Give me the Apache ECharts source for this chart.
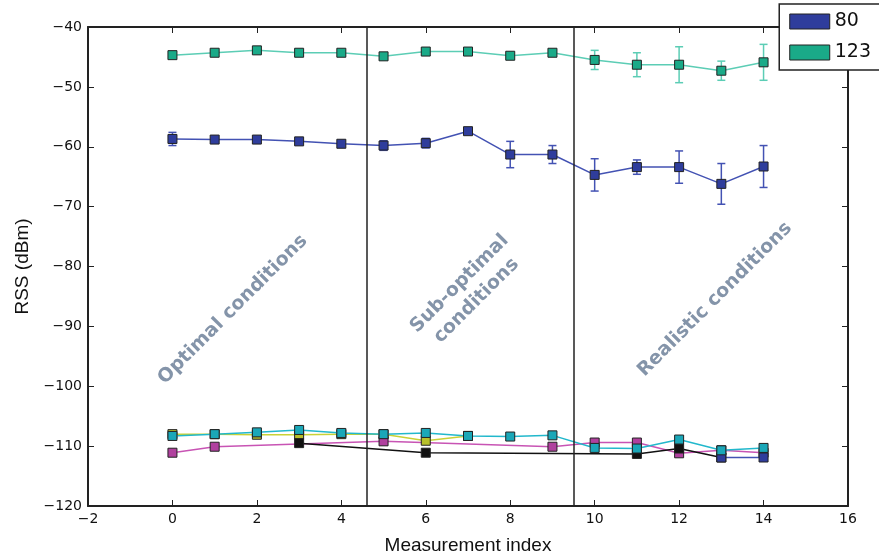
<!DOCTYPE html>
<html>
<head>
<meta charset="utf-8">
<script src="https://cdn.jsdelivr.net/npm/echarts@6/dist/echarts.min.js"></script>
<style>
  html, body { margin: 0; padding: 0; background: #fff; }
  #grafico { width: 879px; height: 560px; }
</style>
</head>
<body>
<div id="grafico"></div>
<script>
// Índices de medición
const indices = [0, 1, 2, 3, 4, 5, 6, 7, 8, 9, 10, 11, 12, 13, 14];

// Serie 80 y su barra de error
const valores80 = [-58.7, -58.8, -58.8, -59.1, -59.5, -59.8, -59.4, -57.4, -61.3, -61.3, -64.7, -63.4, -63.4, -66.2, -63.3];
const error80 = [1.1, 0.3, 0.3, 0.4, 0.4, 0.8, 0.8, 0.3, 2.2, 1.5, 2.7, 1.2, 2.7, 3.4, 3.5];

// Serie 123 y su barra de error
const valores123 = [-44.7, -44.3, -43.9, -44.3, -44.3, -44.9, -44.1, -44.1, -44.8, -44.3, -45.5, -46.3, -46.3, -47.3, -45.9];
const error123 = [0.3, 0.3, 0.3, 0.3, 0.3, 0.5, 0.3, 0.3, 0.3, 0.3, 1.6, 2.0, 3.0, 1.6, 3.0];

// Series inferiores (sin leyenda)
const valoresCian = [-108.3, -108.0, -107.7, -107.3, -107.8, -108.0, -107.8, -108.3, -108.4, -108.2, -110.3, -110.4, -108.9, -110.7, -110.3];
const indicesAmarillo = [0, 1, 2, 3, 4, 5, 6, 7];
const valoresAmarillo = [-108.0, -108.0, -108.1, -108.1, -108.0, -108.0, -109.1, -108.3];
const indicesMagenta = [0, 1, 5, 9, 10, 11, 12, 13, 14];
const valoresMagenta = [-111.1, -110.1, -109.2, -110.1, -109.4, -109.4, -111.2, -110.7, -111.1];
const indicesNegro = [3, 6, 11, 12, 13];
const valoresNegro = [-109.5, -111.1, -111.3, -110.4, -111.9];
const indicesAzulBajo = [13, 14];
const valoresAzulBajo = [-111.9, -111.9];

// Separadores de condiciones y etiquetas
const separadores = [4.6, 9.5];
const etiquetas = [
    { texto: 'Optimal conditions', x: 1.43, y: -87.2 },
    { texto: 'Sub-optimal\nconditions', x: 7.0, y: -84.3 },
    { texto: 'Realistic conditions', x: 12.85, y: -85.5 }
];

function pares(xs, ys) {
    return xs.map((x, i) => [x, ys[i]]);
}

function paresError(xs, ys, errs) {
    return xs.map((x, i) => [x, ys[i] - errs[i], ys[i] + errs[i]]);
}

// Dibuja las barras de error con tapas
function dibujarError(color) {
    return function (params, api) {
        const x = api.value(0);
        const abajo = api.coord([x, api.value(1)]);
        const arriba = api.coord([x, api.value(2)]);
        const medio = 4;
        const estilo = { stroke: color, lineWidth: 1.5 };
        return {
            type: 'group',
            children: [
                { type: 'line', shape: { x1: abajo[0], y1: abajo[1], x2: arriba[0], y2: arriba[1] }, style: estilo },
                { type: 'line', shape: { x1: abajo[0] - medio, y1: abajo[1], x2: abajo[0] + medio, y2: abajo[1] }, style: estilo },
                { type: 'line', shape: { x1: arriba[0] - medio, y1: arriba[1], x2: arriba[0] + medio, y2: arriba[1] }, style: estilo }
            ]
        };
    };
}

function serieLinea(nombre, datos, colorLinea, colorMarca, z) {
    return {
        name: nombre,
        type: 'line',
        data: datos,
        symbol: 'rect',
        symbolSize: 9,
        lineStyle: { color: colorLinea, width: 1.5 },
        itemStyle: { color: colorMarca, borderColor: '#222', borderWidth: 1 },
        emphasis: { disabled: true },
        z: z || 3
    };
}

const grafico = echarts.init(document.getElementById('grafico'));

const fuenteTicks = 'DejaVu Sans';
const conMenos = v => String(v).replace('-', '\u2212');
const ejeComun = {
    axisLine: { onZero: false, lineStyle: { color: '#222', width: 2 } },
    axisTick: { inside: true, length: 6, lineStyle: { color: '#222', width: 1 } },
    splitLine: { show: false }
};

const serie80 = serieLinea('80', pares(indices, valores80), '#4352b3', '#2f3d9c');
serie80.markLine = {
    silent: true,
    symbol: ['none', 'none'],
    label: { show: false },
    lineStyle: { color: '#222', type: 'solid', width: 1.5 },
    data: separadores.map(v => ({ xAxis: v }))
};
serie80.markPoint = {
    silent: true,
    symbol: 'circle',
    symbolSize: 0,
    data: etiquetas.map(e => ({
        coord: [e.x, e.y],
        label: {
            show: true,
            formatter: e.texto,
            rotate: 45,
            position: 'inside',
            align: 'center',
            verticalAlign: 'middle',
            color: '#8494a9',
            fontWeight: 'bold',
            fontSize: 19,
            lineHeight: 24,
            fontFamily: 'DejaVu Sans'
        }
    }))
};

const opciones = {
    animation: false,
    backgroundColor: '#fff',
    grid: { left: 88, right: 31, top: 27, bottom: 53 },
    legend: {
        data: ['80', '123'],
        orient: 'vertical',
        right: -4,
        top: 4,
        itemWidth: 40,
        itemHeight: 15,
        itemGap: 12,
        padding: [8, 12, 8, 10],
        backgroundColor: '#fff',
        borderColor: '#222',
        borderWidth: 1.5,
        icon: 'rect',
        selectedMode: false,
        itemStyle: { borderColor: '#222', borderWidth: 1 },
        textStyle: { fontSize: 19, color: '#111', fontFamily: fuenteTicks }
    },
    xAxis: [
        Object.assign({}, ejeComun, {
            type: 'value',
            min: -2,
            max: 16,
            interval: 2,
            name: 'Measurement index',
            nameLocation: 'middle',
            nameGap: 30,
            nameTextStyle: { fontSize: 19, color: '#111', fontFamily: 'Liberation Sans' },
            axisLabel: { fontSize: 14, color: '#111', fontFamily: fuenteTicks, margin: 6, formatter: conMenos }
        }),
        Object.assign({}, ejeComun, {
            type: 'value',
            position: 'top',
            min: -2,
            max: 16,
            interval: 2,
            axisLabel: { show: false }
        })
    ],
    yAxis: [
        Object.assign({}, ejeComun, {
            type: 'value',
            min: -120,
            max: -40,
            interval: 10,
            name: 'RSS (dBm)',
            nameLocation: 'middle',
            nameGap: 56,
            nameTextStyle: { fontSize: 19, color: '#111', fontFamily: 'Liberation Sans' },
            axisLabel: { fontSize: 14, color: '#111', fontFamily: fuenteTicks, margin: 6, formatter: conMenos }
        }),
        Object.assign({}, ejeComun, {
            type: 'value',
            position: 'right',
            min: -120,
            max: -40,
            interval: 10,
            axisLabel: { show: false }
        })
    ],
    series: [
        {
            type: 'custom',
            renderItem: dibujarError('#4352b3'),
            data: paresError(indices, valores80, error80),
            silent: true,
            z: 2
        },
        {
            type: 'custom',
            renderItem: dibujarError('#5ccdb5'),
            data: paresError(indices, valores123, error123),
            silent: true,
            z: 2
        },
        serie80,
        serieLinea('123', pares(indices, valores123), '#5ccdb5', '#1aaa88'),
        serieLinea('amarillo', pares(indicesAmarillo, valoresAmarillo), '#c9d236', '#b8c02a', 3),
        serieLinea('magenta', pares(indicesMagenta, valoresMagenta), '#c854b4', '#b0409e', 3),
        serieLinea('negro', pares(indicesNegro, valoresNegro), '#111', '#111', 3),
        serieLinea('azul', pares(indicesAzulBajo, valoresAzulBajo), '#4352b3', '#2f3d9c', 3),
        serieLinea('cian', pares(indices, valoresCian), '#22b8cc', '#1aa7b8', 4)
    ]
};

grafico.setOption(opciones);
</script>
</body>
</html>
